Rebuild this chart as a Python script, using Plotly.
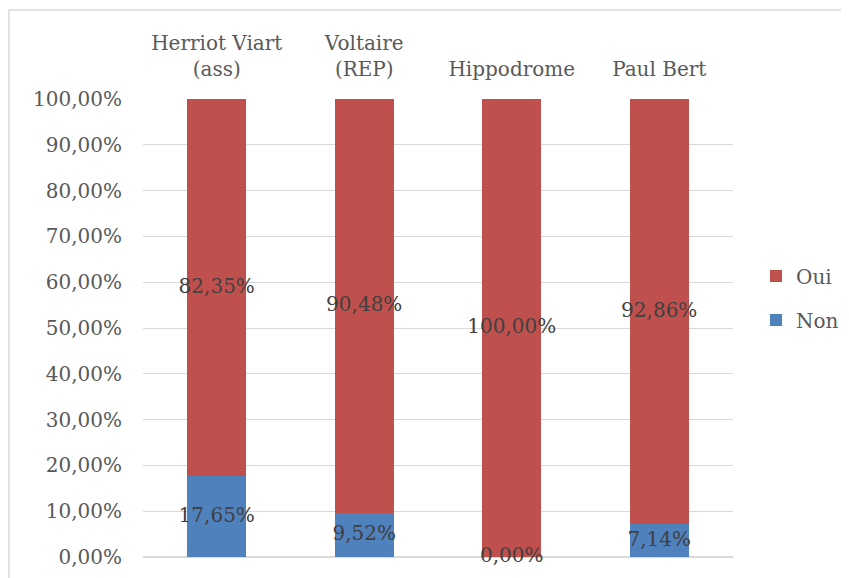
import plotly.graph_objects as go

categories = ["Herriot Viart<br>(ass)", "Voltaire<br>(REP)", "Hippodrome", "Paul Bert"]
non_values = [0.1765, 0.0952, 0.0, 0.0714]
oui_values = [0.8235, 0.9048, 1.0, 0.9286]

FONT = "DejaVu Serif"
TXT = "#595959"
LBL = "#404040"
FS = 20

fig = go.Figure()
fig.add_trace(go.Bar(x=categories, y=non_values, name="Non", marker_color="#4F81BD",
                     marker_line_width=0, legendgroup="non", legendrank=2))
fig.add_trace(go.Bar(x=categories, y=oui_values, name="Oui", marker_color="#C0504D",
                     marker_line_width=0, legendgroup="oui", legendrank=1))

# data labels centred in each segment
non_mid = [v / 2 for v in non_values]
oui_mid = [n + o / 2 for n, o in zip(non_values, oui_values)]
fmt = lambda v: f"{v*100:.2f}%".replace(".", ",")
fig.add_trace(go.Scatter(x=categories, y=non_mid, mode="text", text=[fmt(v) for v in non_values],
                         textfont=dict(family=FONT, size=FS, color=LBL), showlegend=False,
                         hoverinfo="skip", cliponaxis=False))
fig.add_trace(go.Scatter(x=categories, y=oui_mid, mode="text", text=[fmt(v) for v in oui_values],
                         textfont=dict(family=FONT, size=FS, color=LBL), showlegend=False,
                         hoverinfo="skip", cliponaxis=False))

# the page body adds an 8px offset; figure coords = screen coords - 8
W, H = 841, 570
L, T = 135, 91
pw, ph = 590, 458
R, B = W - L - pw, H - T - ph

fig.update_layout(
    width=W, height=H,
    margin=dict(l=L, r=R, t=T, b=B, autoexpand=False),
    barmode="stack", bargap=0.6,
    separators=", ",
    plot_bgcolor="white", paper_bgcolor="white",
    font=dict(family=FONT, size=FS, color=TXT),
    showlegend=True,
    legend=dict(x=(748 - L) / pw, xanchor="left", y=(549 - 290) / ph, yanchor="middle",
                traceorder="grouped", tracegroupgap=15,
                font=dict(family=FONT, size=FS, color=TXT)),
    xaxis=dict(side="top", showgrid=False, showline=False, ticks="", automargin=False,
               ticklabelstandoff=18,
               tickfont=dict(family=FONT, size=FS, color=TXT)),
    yaxis=dict(range=[0, 1], dtick=0.1, tickformat=".2%", showgrid=True, automargin=False,
               gridcolor="#D9D9D9", gridwidth=1, zeroline=True, zerolinecolor="#D9D9D9",
               ticks="", ticklabelstandoff=20,
               tickfont=dict(family=FONT, size=FS, color=TXT)),
    shapes=[dict(type="rect", xref="paper", yref="paper",
                 x0=-(L - 1) / pw, x1=(W + 20 - L) / pw,
                 y0=-(B + 20) / ph, y1=1 + (T - 2) / ph,
                 line=dict(color="#D9D9D9", width=1.5), fillcolor="rgba(0,0,0,0)", layer="below")],
)

fig.write_html("out.html")
